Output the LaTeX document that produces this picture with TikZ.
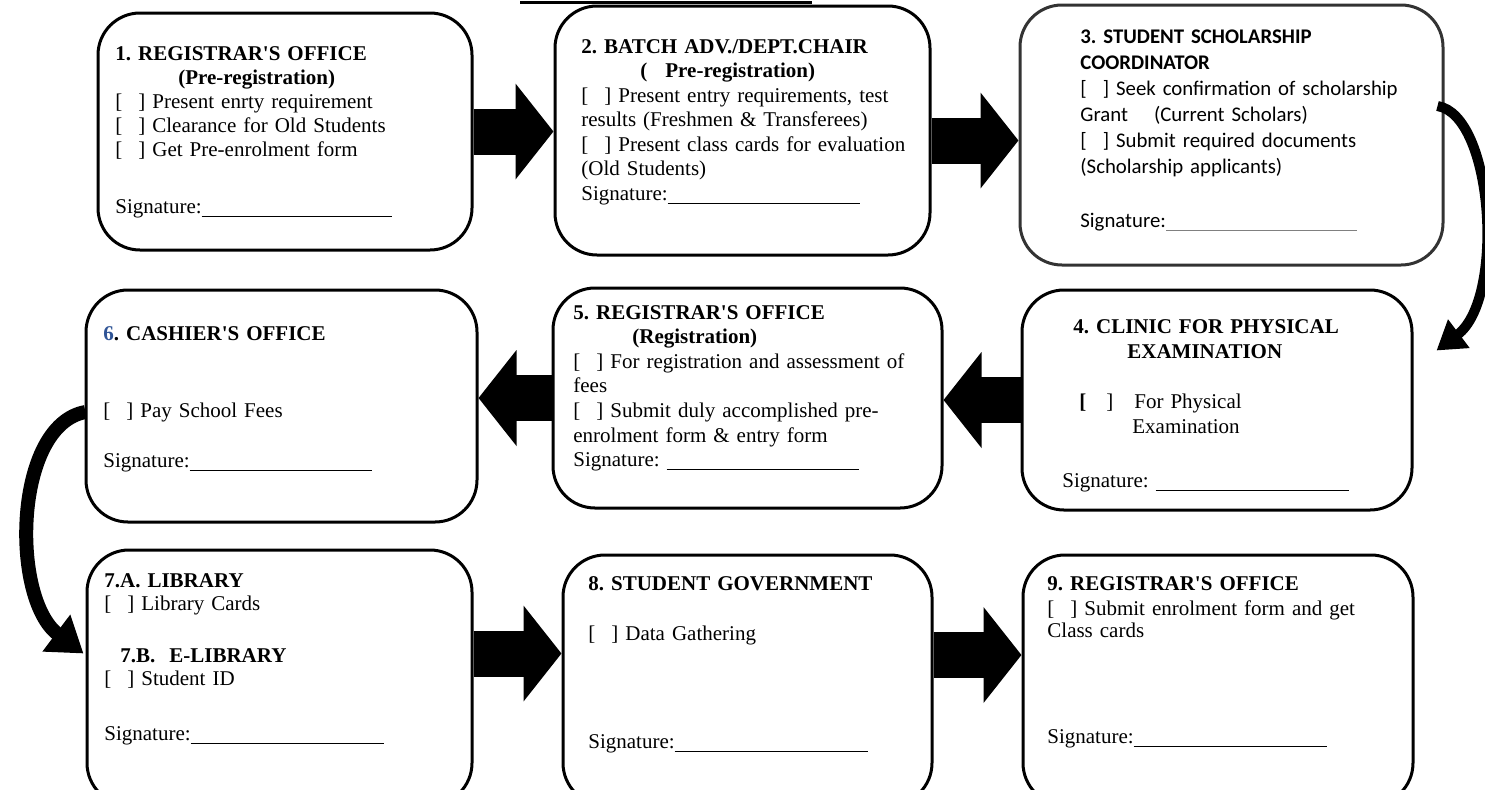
\documentclass[tikz,border=0pt]{standalone}
\usepackage{fontspec}
\setmainfont{Liberation Serif}
\newfontfamily\calibri{Carlito}
\usepackage{xcolor}
\usetikzlibrary{arrows.meta,calc}
\definecolor{numblue}{HTML}{2F5496}
\newcommand{\chkbox}{\mbox{[\hspace{8pt}]}}
\newcommand{\sigrule}[1]{\rule[-1.8pt]{#1}{0.5pt}}
\frenchspacing

\begin{document}
\begin{tikzpicture}[x=0.5pt, y=-0.5pt,
  box/.style={draw, line width=1.5pt, rounded corners=21pt, inner sep=0pt},
  txt/.style={anchor=base west, inner sep=0pt, text width=230pt, align=left, font=\fontsize{10.5}{12}\selectfont},
  flow/.style={line width=23pt, -{Triangle[width=47pt, length=19pt]}},
  curvedflow/.style={line width=#1, -{Triangle[width=17pt, length=14pt]}}]
\useasboundingbox (0,0) rectangle (1485,789);

\draw[line width=1.5pt] (520,2) -- (812,2);

% boxes
\node[box, minimum width=187pt, minimum height=118.5pt] (b1) at (285,131.5) {};
\node[box, minimum width=187.5pt, minimum height=124.5pt] (b2) at (742.5,130.5) {};
\node[box, draw=black!80, minimum width=211.5pt, minimum height=130pt] (b3) at (1231.5,135) {};
\node[box, minimum width=195pt, minimum height=110pt] (b4) at (1217,400) {};
\node[box, minimum width=194.5pt, minimum height=110pt] (b5) at (747.5,398) {};
\node[box, minimum width=195.5pt, minimum height=116pt] (b6) at (281.5,406) {};
\node[box, minimum width=192.5pt, minimum height=127.5pt] (b7) at (279.5,677.5) {};
\node[box, minimum width=184.5pt, minimum height=125pt] (b8) at (747.5,680) {};
\node[box, minimum width=195pt, minimum height=125pt] (b9) at (1218,680) {};

% texts
\node[txt] (t1) at (115,60) {\textbf{1. REGISTRAR\textquotesingle S OFFICE}\\
\hspace*{31.5pt}\textbf{(Pre-registration)}\\
\chkbox\ Present enrty requirement\\
\chkbox\ Clearance for Old Students\\
\chkbox\ Get Pre-enrolment form\\[16.5pt]
Signature:\sigrule{95pt}};

\node[txt, font=\fontsize{10.5}{12.25}\selectfont] (t2) at (581,53) {\textbf{2. BATCH ADV./DEPT.CHAIR}\\
\hspace*{29.5pt}\textbf{(\hspace{9pt}Pre-registration)}\\
\chkbox\ Present entry requirements, test\\
results (Freshmen \& Transferees)\\
\chkbox\ Present class cards for evaluation\\
(Old Students)\\
Signature:\sigrule{96pt}};

\node[txt, font=\calibri\fontsize{10.4}{13}\selectfont] (t3) at (1080,43) {\textbf{3. STUDENT SCHOLARSHIP}\\
\textbf{COORDINATOR}\\
\chkbox\ Seek confirmation of scholarship\\
Grant\hspace{13pt}(Current Scholars)\\
\chkbox\ Submit required documents\\
(Scholarship applicants)\\[14pt]
Signature:\textcolor{gray}{\sigrule{95.5pt}}};

\node[txt, font=\fontsize{10.5}{12.5}\selectfont] (t4) at (1062,333) {\hspace*{5.5pt}\textbf{4. CLINIC FOR PHYSICAL}\\
\hspace*{32.5pt}\textbf{EXAMINATION}\\[12.5pt]
\hspace*{8.5pt}\textbf{[}\hspace{10pt}]\hspace{10.5pt}For Physical\\
\hspace*{35pt}Examination\\[14.5pt]
Signature: \sigrule{96.5pt}};

\node[txt, font=\fontsize{10.5}{12.3}\selectfont] (t5) at (573,319) {\textbf{5. REGISTRAR\textquotesingle S OFFICE}\\
\hspace*{29.5pt}\textbf{(Registration)}\\
\chkbox\ For registration and assessment of\\
fees\\
\chkbox\ Submit duly accomplished pre-\\
enrolment form \& entry form\\
Signature: \sigrule{96pt}};

\node[txt] (t6) at (103,340) {\textbf{\textcolor{numblue}{6}. CASHIER\textquotesingle S OFFICE}\\[26.5pt]
\chkbox\ Pay School Fees\\[13pt]
Signature:\sigrule{91pt}};

\node[txt, font=\fontsize{10.5}{11.5}\selectfont] (t7) at (104,587) {\textbf{7.A. LIBRARY}\\
\chkbox\ Library Cards\\[14.5pt]
\hspace*{8pt}\textbf{7.B.\ \ E-LIBRARY}\\
\chkbox\ Student ID\\[16pt]
Signature:\sigrule{96.5pt}};

\node[txt] (t8) at (588,590) {\textbf{8. STUDENT GOVERNMENT}\\[13pt]
\chkbox\ Data Gathering\\[42pt]
Signature:\sigrule{96.5pt}};

\node[txt] (t9) at (1047,590) {\textbf{9. REGISTRAR\textquotesingle S OFFICE}\\[0.5pt]
\chkbox\ Submit enrolment form and get\\[-1pt]
Class cards\\[41pt]
Signature:\sigrule{96.5pt}};

% arrows
\draw[flow] (b1.east) -- (b1.east -| b2.west);
\draw[flow] ([yshift=-5pt]b2.east) -- ([yshift=-5pt]b2.east -| b3.west);
\draw[flow] (b4.west) -- (b4.west -| b5.east);
\draw[flow] (b5.west) -- (b5.west -| b6.east);
\draw[flow] ([yshift=12pt]b7.east) -- ([yshift=12pt]b7.east -| b8.west);
\draw[flow] ([yshift=12.5pt]b8.east) -- ([yshift=12.5pt]b8.east -| b9.west);

\draw[curvedflow=5pt] ($(b3.east)+(-7,-29)$) .. controls ($(b3.east)+(49,-20)$) and ($(b4.north east)+(92,10)$) .. ($(b4.north east)+(23,62)$);
\draw[curvedflow=7pt, -{Triangle[width=22pt, length=17pt]}] ($(b6.west)+(1,6)$) .. controls ($(b6.west)+(-71,19)$) and ($(b7.north west)+(-75,50)$) .. ($(b7.north west)+(-2,105)$);
\end{tikzpicture}
\end{document}
